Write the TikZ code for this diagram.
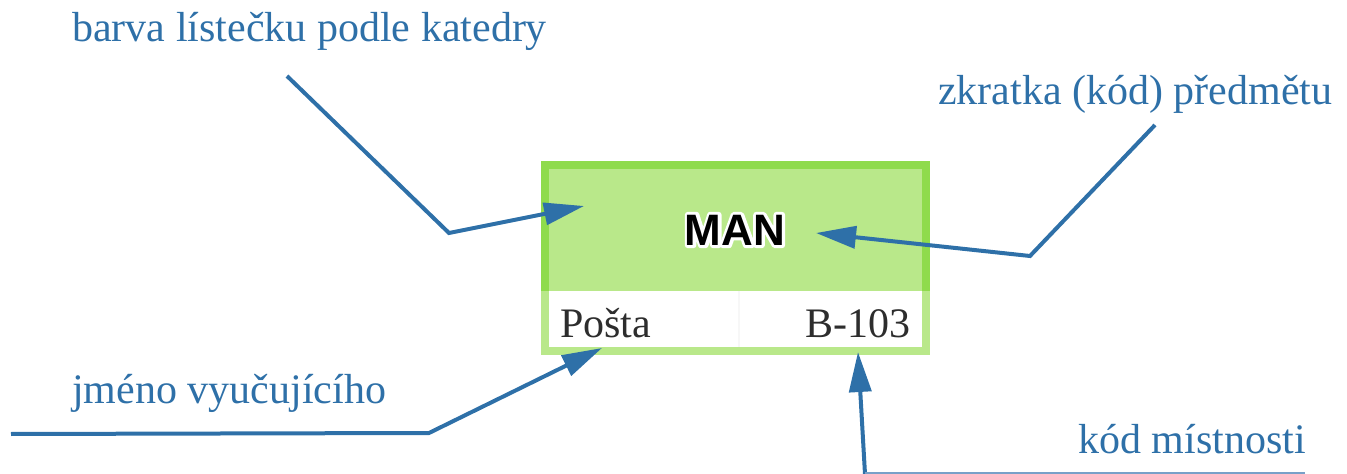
\documentclass[tikz,border=0pt]{standalone}
\usepackage{fontspec}
\setmainfont{Liberation Serif}
\newfontfamily\manfont{Liberation Sans}
\usetikzlibrary{arrows.meta}
\definecolor{lblue}{RGB}{46,112,168}
\definecolor{lblueline}{RGB}{120,160,200}
\definecolor{cardfill}{RGB}{185,232,138}
\definecolor{cardedge}{RGB}{143,219,76}
\definecolor{cardtext}{RGB}{45,45,45}
\newcommand\haloword[1]{\rlap{\special{pdf:literal direct 1 Tr 1 j 1 1 1 RG 4.5 w}#1\special{pdf:literal direct 0 Tr}}#1}
\tikzset{
  lbl/.style={inner sep=0pt, anchor=base west, text=lblue, font=\fontsize{31.5}{36}\selectfont},
  cardlbl/.style={inner sep=0pt, text=cardtext, font=\fontsize{31.5}{36}\selectfont},
  pointer/.style={draw=lblue, line width=3pt, line join=miter, -{Triangle[length=30pt,width=16.5pt]}},
}
\begin{document}
\begin{tikzpicture}[x=0.75pt,y=-0.75pt]
\useasboundingbox (0,0) rectangle (1347,474);
% card
\fill[cardedge] (541,161) rectangle (930,291);
\fill[cardfill] (549,169) rectangle (922,291);
\fill[cardfill] (541,291) rectangle (930,355);
\fill[white] (549,291) rectangle (922,347);
\draw[gray!6, line width=0.8pt] (739,291) -- (739,347);
\node[inner sep=0pt, minimum width=373*0.75pt, minimum height=122*0.75pt] (card) at (735.5,230) {};
% title with white outline
\node[inner sep=0pt, text=black, font=\manfont\bfseries\fontsize{33}{36}\selectfont] (man) at (735,230) {\haloword{MAN}};
\node[cardlbl, anchor=base west] (posta) at (560,337) {Pošta};
\node[cardlbl, anchor=base east] (room) at (911,337) {B-103};
% labels
\node[lbl] (l1) at (72,42) {barva lístečku podle katedry};
\node[lbl] (l2) at (938,105) {zkratka (kód) předmětu};
\node[lbl] (l3) at (72,403) {jméno vyučujícího};
\node[lbl] (l4) at (1078,453) {kód místnosti};
% connector points
\coordinate (s1) at (287,76);
\coordinate (e1) at (449,233);
\coordinate (t1) at (584,206);
\coordinate (s2) at (1155,125);
\coordinate (e2) at (1030,256);
\coordinate (t2) at (816,233);
\coordinate (s3) at (11,434);
\coordinate (e3) at (429,433);
\coordinate (t3) at (602,348);
\coordinate (s4) at (865,474);
\coordinate (t4) at (858,352);
\coordinate (u4a) at (865,472.5);
\coordinate (u4b) at (1305,472.5);
\draw[pointer] (s1) -- (e1) -- (t1);
\draw[pointer] (s2) -- (e2) -- (t2);
\draw[pointer] (s3) -- (e3) -- (t3);
\draw[pointer] (s4) -- (t4);
\draw[lblueline, line width=1.5pt] (u4a) -- (u4b);
\end{tikzpicture}
\end{document}
